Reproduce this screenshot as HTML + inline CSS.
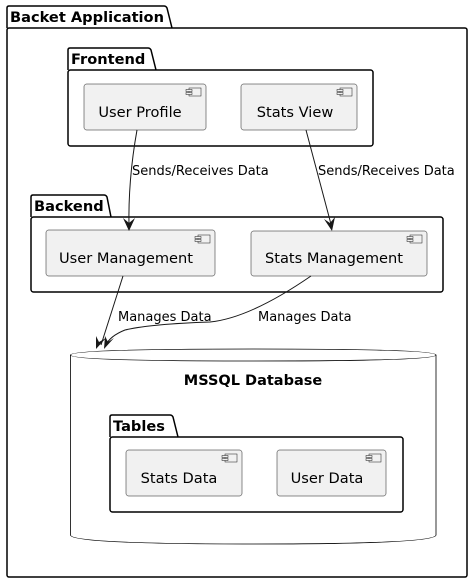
<!DOCTYPE html>
<html><head><meta charset="utf-8"><style>
html,body{margin:0;padding:0;background:#fff;}
svg{display:block;font-family:"Liberation Sans","DejaVu Sans",sans-serif;}
.t{font-family:"DejaVu Sans","Liberation Sans",sans-serif;}
</style></head><body>
<svg width="473" height="582" viewBox="0 0 473 582" xmlns="http://www.w3.org/2000/svg">
<defs>
<g id="ic"><rect x="3" y="0" width="12" height="8" fill="#f1f1f1" stroke="#181818" stroke-width="0.5"/><rect x="0" y="1.5" width="6" height="2" fill="#f1f1f1" stroke="#181818" stroke-width="0.5"/><rect x="0" y="4.5" width="6" height="2" fill="#f1f1f1" stroke="#181818" stroke-width="0.5"/></g>
</defs>
<g fill="none" stroke="#000" stroke-width="1.5">
<path d="M7,28 V8 Q7,6 9,6 H164 Q166,6 167,8 L172,28"/>
<rect x="7" y="28" width="460" height="549" rx="2"/>
<path d="M68,70 V50 Q68,48 70,48 H148 Q150,48 151,50 L156,70"/>
<rect x="68" y="70" width="305" height="76" rx="2.5"/>
<path d="M31,217 V197 Q31,195 33,195 H104 Q106,195 107,197 L111,217"/>
<rect x="31" y="217" width="412" height="75" rx="2.5"/>
</g>
<!-- database -->
<path d="M70.5,355 Q70.5,349 253,349 Q436,349 436,355 V535 Q436,544 253,544 Q70.5,544 70.5,535 Z" fill="#fff" stroke="#000" stroke-width="0.8"/>
<path d="M70.5,355 Q70.5,361 253,361 Q436,361 436,355" fill="none" stroke="#000" stroke-width="0.8"/>
<text x="253" y="385" text-anchor="middle" font-weight="bold" font-size="14.5" class="t">MSSQL Database</text>
<g fill="none" stroke="#000" stroke-width="1.5">
<path d="M110,437 V417 Q110,415 112,415 H170 Q172,415 173,417 L178,437"/>
<rect x="110" y="437" width="293" height="75" rx="2.5"/>
</g>
<g font-weight="bold" font-size="14.6" class="t">
<text x="10" y="22">Backet Application</text>
<text x="71" y="64">Frontend</text>
<text x="34" y="211">Backend</text>
<text x="113" y="431">Tables</text>
</g>
<!-- components -->
<g fill="#f1f1f1" stroke="#181818" stroke-width="0.5">
<rect x="84" y="84" width="122" height="46" rx="2.5"/>
<rect x="241" y="84" width="116" height="46" rx="2.5"/>
<rect x="46" y="230" width="169" height="46" rx="2.5"/>
<rect x="251" y="231" width="176" height="45" rx="2.5"/>
<rect x="126" y="450" width="116" height="46" rx="2.5"/>
<rect x="277" y="450" width="109" height="46" rx="2.5"/>
</g>
<use href="#ic" x="186" y="88"/><use href="#ic" x="337" y="88"/>
<use href="#ic" x="195" y="235"/><use href="#ic" x="407" y="235"/>
<use href="#ic" x="222" y="454"/><use href="#ic" x="366" y="454"/>
<g font-size="14.6" class="t" text-anchor="middle">
<text x="140" y="117">User Profile</text>
<text x="295" y="117">Stats View</text>
<text x="126" y="263">User Management</text>
<text x="334" y="263">Stats Management</text>
<text x="179" y="483">Stats Data</text>
<text x="327" y="483">User Data</text>
</g>
<!-- arrows -->
<g fill="none" stroke="#181818" stroke-width="1">
<path d="M137,130 Q128,180 129,228"/>
<path d="M306,130 L332,228"/>
<path d="M123,276 L101,345"/>
<path d="M311,276 Q250,318 210,322 Q150,324 125,330 Q110,336 106,345"/>
</g>
<g fill="#181818">
<path d="M129,231 L123,218 L129,223 L135,218 Z"/>
<path d="M332,231 L324,219 L330,223 L335,217 Z"/>
<path d="M96,349 L96,336 L99,342 L106,338 Z"/>
<path d="M104,349 L105,336 L108,342 L114,338 Z"/>
</g>
<g font-size="13" class="t">
<text x="132" y="175">Sends/Receives Data</text>
<text x="318" y="175">Sends/Receives Data</text>
<text x="118" y="321">Manages Data</text>
<text x="258" y="321">Manages Data</text>
</g>
</svg>
</body></html>
